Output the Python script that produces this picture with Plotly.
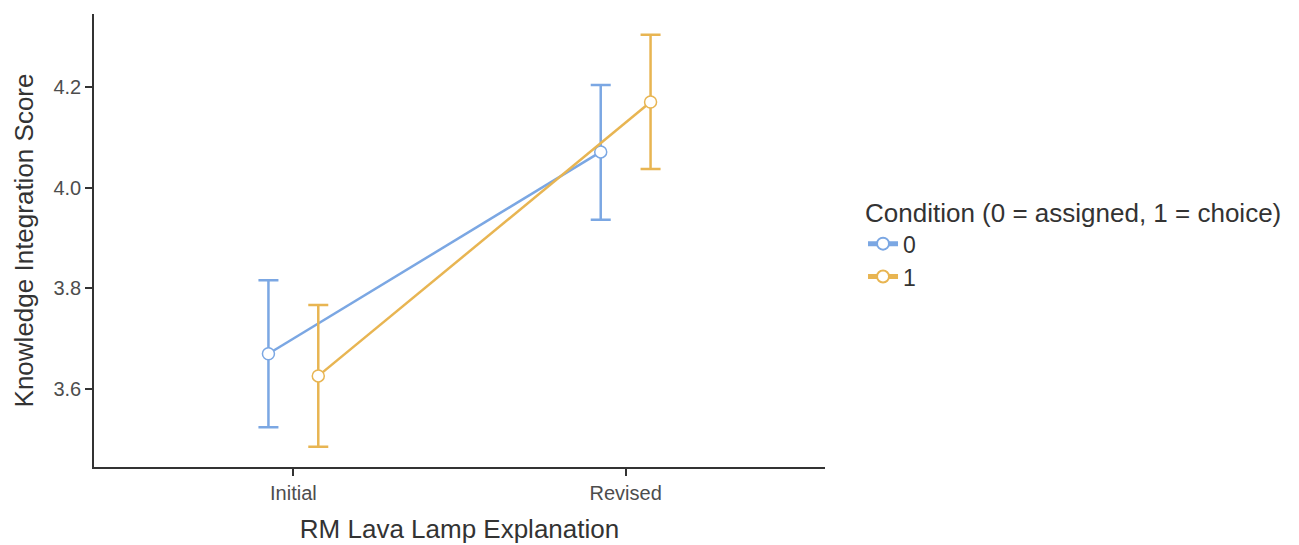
import plotly.graph_objects as go

categories = ["Initial", "Revised"]
cond0_mean = [3.670, 4.071]
cond0_lo = [3.524, 3.936]
cond0_hi = [3.816, 4.204]
cond1_mean = [3.626, 4.170]
cond1_lo = [3.485, 4.037]
cond1_hi = [3.767, 4.304]
series_names = ["0", "1"]
colors = ["#7BA7E3", "#E8B552"]

dodge = 0.075
base = [1, 2]

fig = go.Figure()
for name, mean, lo, hi, col, off in [
    (series_names[0], cond0_mean, cond0_lo, cond0_hi, colors[0], -dodge),
    (series_names[1], cond1_mean, cond1_lo, cond1_hi, colors[1], dodge),
]:
    xs = [b + off for b in base]
    fig.add_trace(go.Scatter(
        x=xs, y=mean, name=name, mode="lines+markers",
        line=dict(color=col, width=2.5),
        marker=dict(size=12, color="white", line=dict(color=col, width=1.5)),
        error_y=dict(type="data", symmetric=False,
                     array=[h - m for h, m in zip(hi, mean)],
                     arrayminus=[m - l for m, l in zip(mean, lo)],
                     color=col, thickness=2.5, width=10),
    ))

font_family = "Liberation Sans, Arial, Helvetica, sans-serif"
fig.update_layout(
    width=1291, height=537,
    margin=dict(l=86, r=474, t=6, b=78),
    plot_bgcolor="white", paper_bgcolor="white",
    font=dict(family=font_family, color="#333333"),
    legend=dict(
        title=dict(text="Condition (0 = assigned, 1 = choice)", font=dict(size=26, color="#333333")),
        font=dict(size=23, color="#333333"),
        x=1.052, y=0.615, xanchor="left", yanchor="top",
        tracegroupgap=0, itemsizing="constant", itemwidth=30,
    ),
    xaxis=dict(
        range=[0.4, 2.6], tickvals=base, ticktext=categories,
        showline=True, linecolor="#333333", linewidth=1.5,
        ticks="outside", ticklen=7, tickwidth=1.5, tickcolor="#333333",
        showgrid=False, zeroline=False,
        tickfont=dict(size=20, color="#4d4d4d"),
        title=dict(text="RM Lava Lamp Explanation", font=dict(size=26, color="#333333"), standoff=17),
    ),
    yaxis=dict(
        range=[3.445, 4.345], tickvals=[3.6, 3.8, 4.0, 4.2], ticktext=["3.6", "3.8", "4.0", "4.2"],
        showline=True, linecolor="#333333", linewidth=1.5,
        ticks="outside", ticklen=7, tickwidth=1.5, tickcolor="#333333",
        showgrid=False, zeroline=False,
        tickfont=dict(size=20, color="#4d4d4d"),
        title=dict(text="Knowledge Integration Score", font=dict(size=26, color="#333333"), standoff=12),
    ),
)

fig.write_html("out.html")
